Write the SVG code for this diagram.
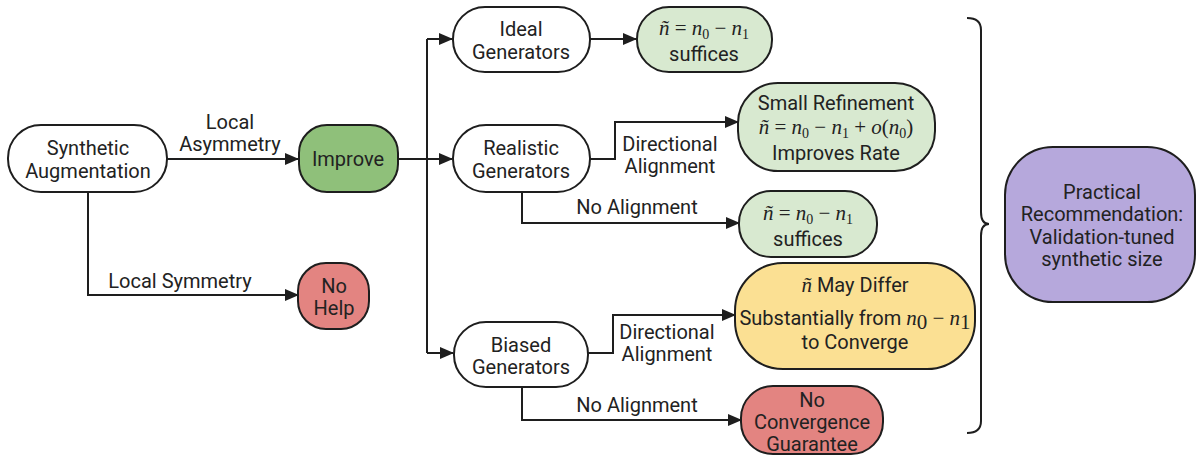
<svg xmlns="http://www.w3.org/2000/svg" width="1198" height="458" viewBox="0 0 1198 458">
<style>
.n{stroke:#1e1e1e;stroke-width:2}
.w{fill:#ffffff}.g{fill:#8fc07a}.lg{fill:#d8e9d0}.r{fill:#e38481}.y{fill:#fbe093}.p{fill:#b6a8dc}
.t{font-family:Roboto,"Liberation Sans",sans-serif;font-size:20px;fill:#222;text-anchor:middle}
.m{font-family:"Liberation Serif","DejaVu Serif",serif;font-size:21px;fill:#222}
.i{font-style:italic}
.c{fill:none;stroke:#1e1e1e;stroke-width:2}
</style>
<defs>
<marker id="a" markerWidth="14" markerHeight="12" refX="13" refY="6" orient="auto" markerUnits="userSpaceOnUse">
<path d="M0,0 L14,6 L0,12 z" fill="#1e1e1e"/>
</marker>
</defs>
<rect width="1198" height="458" fill="#ffffff"/>
<g id="connectors">
<path class="c" d="M167,159 H298" marker-end="url(#a)"/>
<path class="c" d="M88,192 V295 H298" marker-end="url(#a)"/>
<path class="c" d="M398,159 H452" marker-end="url(#a)"/>
<path class="c" d="M427,39 V353" />
<path class="c" d="M427,39 H452" marker-end="url(#a)"/>
<path class="c" d="M427,353 H453" marker-end="url(#a)"/>
<path class="c" d="M590,39 H636" marker-end="url(#a)"/>
<path class="c" d="M590,159 H615 V122 H738" marker-end="url(#a)"/>
<path class="c" d="M522,192 V223 H739" marker-end="url(#a)"/>
<path class="c" d="M588,353 H613 V315 H735" marker-end="url(#a)"/>
<path class="c" d="M522,387 V420 H741" marker-end="url(#a)"/>
<path class="c" d="M967,18 Q981,18 981,30 V212 Q981,224 989,224 Q981,224 981,236 V421 Q981,433 967,433"/>
<text class="t" x="230" y="129">Local</text>
<text class="t" x="230" y="151">Asymmetry</text>
<text class="t" x="180" y="288">Local Symmetry</text>
<text class="t" x="670" y="151">Directional</text>
<text class="t" x="670" y="173">Alignment</text>
<text class="t" x="637" y="214">No Alignment</text>
<text class="t" x="667" y="339">Directional</text>
<text class="t" x="667" y="361">Alignment</text>
<text class="t" x="637" y="412">No Alignment</text>
</g>
<g id="synthetic">
<rect class="n w" x="8" y="125" width="159" height="67" rx="33"/>
<text class="t" x="88" y="155">Synthetic</text>
<text class="t" x="88" y="178">Augmentation</text>
</g>
<g id="improve">
<rect class="n g" x="299" y="125" width="99" height="67" rx="28"/>
<text class="t" x="348" y="166">Improve</text>
</g>
<g id="nohelp">
<rect class="n r" x="298" y="263" width="71" height="66" rx="28"/>
<text class="t" x="334" y="293">No</text>
<text class="t" x="334" y="315">Help</text>
</g>
<g id="ideal">
<rect class="n w" x="453" y="7" width="137" height="65" rx="32"/>
<text class="t" x="521" y="36">Ideal</text>
<text class="t" x="521" y="59">Generators</text>
</g>
<g id="ideal-result">
<rect class="n lg" x="637" y="7" width="135" height="65" rx="32"/>
<text class="m" x="704" y="35" text-anchor="middle"><tspan class="i">ñ</tspan> = <tspan class="i">n</tspan><tspan font-size="14" dy="4">0</tspan><tspan dy="-4"> − </tspan><tspan class="i">n</tspan><tspan font-size="14" dy="4">1</tspan></text>
<text class="t" x="704" y="61">suffices</text>
</g>
<g id="realistic">
<rect class="n w" x="453" y="125" width="137" height="67" rx="33"/>
<text class="t" x="521" y="155">Realistic</text>
<text class="t" x="521" y="178">Generators</text>
</g>
<g id="refinement">
<rect class="n lg" x="738" y="83" width="197" height="88" rx="40"/>
<text class="t" x="836" y="110">Small Refinement</text>
<text class="m" x="836" y="134" text-anchor="middle"><tspan class="i">ñ</tspan> = <tspan class="i">n</tspan><tspan font-size="14" dy="4">0</tspan><tspan dy="-4"> − </tspan><tspan class="i">n</tspan><tspan font-size="14" dy="4">1</tspan><tspan dy="-4"> + </tspan><tspan class="i">o</tspan>(<tspan class="i">n</tspan><tspan font-size="14" dy="4">0</tspan><tspan dy="-4">)</tspan></text>
<text class="t" x="836" y="160">Improves Rate</text>
</g>
<g id="realistic-result">
<rect class="n lg" x="739" y="191" width="138" height="66" rx="32"/>
<text class="m" x="808" y="220" text-anchor="middle"><tspan class="i">ñ</tspan> = <tspan class="i">n</tspan><tspan font-size="14" dy="4">0</tspan><tspan dy="-4"> − </tspan><tspan class="i">n</tspan><tspan font-size="14" dy="4">1</tspan></text>
<text class="t" x="808" y="246">suffices</text>
</g>
<g id="biased">
<rect class="n w" x="454" y="322" width="134" height="65" rx="32"/>
<text class="t" x="521" y="352">Biased</text>
<text class="t" x="521" y="374">Generators</text>
</g>
<g id="differ">
<rect class="n y" x="735" y="263" width="240" height="106" rx="48"/>
<text class="t" x="855" y="292"><tspan class="m i">ñ</tspan> May Differ</text>
<text class="t" x="855" y="325">Substantially from <tspan class="m i">n</tspan><tspan class="m" font-size="14" dy="4">0</tspan><tspan class="m" dy="-4"> − </tspan><tspan class="m i">n</tspan><tspan class="m" font-size="14" dy="4">1</tspan></text>
<text class="t" x="855" y="349">to Converge</text>
</g>
<g id="noconv">
<rect class="n r" x="741" y="386" width="142" height="68" rx="32"/>
<text class="t" x="812" y="407">No</text>
<text class="t" x="812" y="429">Convergence</text>
<text class="t" x="812" y="451">Guarantee</text>
</g>
<g id="recommendation">
<rect class="n p" x="1005" y="147" width="190" height="155" rx="48"/>
<text class="t" x="1102" y="199">Practical</text>
<text class="t" x="1102" y="221">Recommendation:</text>
<text class="t" x="1102" y="244">Validation-tuned</text>
<text class="t" x="1102" y="266">synthetic size</text>
</g>
</svg>
